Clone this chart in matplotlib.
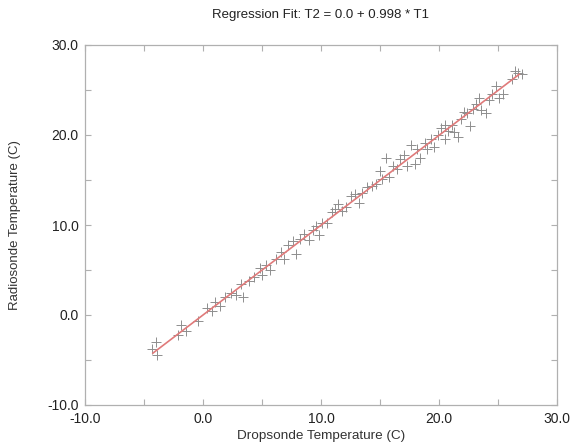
import matplotlib
matplotlib.use("Agg")
import matplotlib.pyplot as plt
from matplotlib.ticker import MultipleLocator, FormatStrFormatter

plt.rcParams['font.family'] = ['Liberation Sans', 'DejaVu Sans']

# Dropsonde (T1) vs Radiosonde (T2) temperatures
t1 = [-4.0, -4.3, -3.9, -1.9, -2.1, -1.45, -0.4, 0.3, 0.8, 1.0, 1.4, 1.9, 2.4, 2.8, 3.2,
      3.4, 3.9, 4.3, 4.8, 5.0, 5.3, 5.7, 6.2, 6.6, 6.9, 7.2, 7.6, 7.9, 8.2, 8.6, 9.0,
      9.3, 9.6, 9.8, 10.1, 10.5, 10.9, 11.2, 11.4, 11.8, 12.1, 12.5, 12.9, 13.2, 13.5,
      13.9, 14.3, 14.7, 15.0, 15.2, 15.5, 15.8, 16.1, 16.4, 16.7, 17.0, 17.3, 17.6,
      18.0, 18.1, 18.4, 18.8, 19.0, 19.3, 19.6, 19.9, 20.2, 20.5, 20.5, 20.8, 21.1,
      21.3, 21.6, 21.9, 22.1, 22.4, 22.6, 22.9, 23.1, 23.4, 23.6, 24.0, 24.2, 24.5,
      24.8, 25.1, 25.4, 26.2, 26.4, 26.7, 27.0]
t2 = [-3.0, -3.8, -4.4, -1.1, -2.2, -1.8, -0.7, 0.8, 0.5, 1.5, 1.0, 2.0, 2.4, 2.2, 3.5,
      2.0, 3.8, 4.2, 5.2, 4.5, 5.6, 5.0, 6.2, 7.0, 6.2, 7.8, 8.2, 6.8, 8.4, 9.0, 8.3,
      9.4, 9.9, 8.9, 10.2, 10.2, 11.4, 11.8, 12.3, 11.6, 12.0, 13.2, 13.4, 12.4, 13.6,
      14.2, 14.3, 14.6, 16.0, 15.1, 17.4, 15.3, 16.6, 16.2, 17.3, 17.8, 16.6, 18.9,
      16.8, 18.5, 17.5, 19.1, 18.5, 19.6, 18.7, 20.0, 20.8, 21.1, 19.6, 20.4, 21.1,
      20.3, 19.8, 21.8, 22.6, 22.4, 21.0, 22.9, 23.4, 24.1, 22.8, 22.4, 23.9, 24.6,
      25.4, 24.1, 24.6, 26.2, 27.1, 26.9, 26.8]

intercept = 0.0
slope = 0.998
fit_x = [-4.25, 26.8]
fit_y = [intercept + slope * v for v in fit_x]

fig = plt.figure(figsize=(5.75, 4.43), dpi=100)
ax = fig.add_axes([85 / 575, 1 - 405 / 443, 472 / 575, 360 / 443])

ax.plot(t1, t2, linestyle='none', marker='+', markersize=7, markeredgewidth=0.7,
        color='#8e8e8e')
ax.plot(fit_x, fit_y, color='#e07a7a', linewidth=1.2)

ax.set_xlim(-10, 30)
ax.set_ylim(-10, 30)
for a in (ax.xaxis, ax.yaxis):
    a.set_major_locator(MultipleLocator(10))
    a.set_minor_locator(MultipleLocator(5))
    a.set_major_formatter(FormatStrFormatter('%.1f'))
ax.tick_params(which='both', direction='in', top=True, right=True,
               color='#b0b0b0', labelsize=10, labelcolor='#222222')
ax.tick_params(which='major', length=4, width=0.8)
ax.tick_params(which='minor', length=4, width=0.8)
ax.tick_params(axis='y', pad=4.5)
ax.tick_params(axis='x', pad=5)
for s in ax.spines.values():
    s.set_color('#b0b0b0')
    s.set_linewidth(0.9)

ax.set_xlabel('Dropsonde Temperature (C)', fontsize=9.7, color='#333333')
ax.set_ylabel('Radiosonde Temperature (C)', fontsize=9.5, color='#333333')
ax.xaxis.set_label_coords(0.5, -0.069)
ax.yaxis.set_label_coords(-0.136, 0.5)
fig.text(320 / 575, 1 - 15 / 443, 'Regression Fit: T2 = 0.0 + 0.998 * T1', ha='center',
         va='center', fontsize=9.5, color='#222222')

fig.savefig('out.png', dpi=100)
